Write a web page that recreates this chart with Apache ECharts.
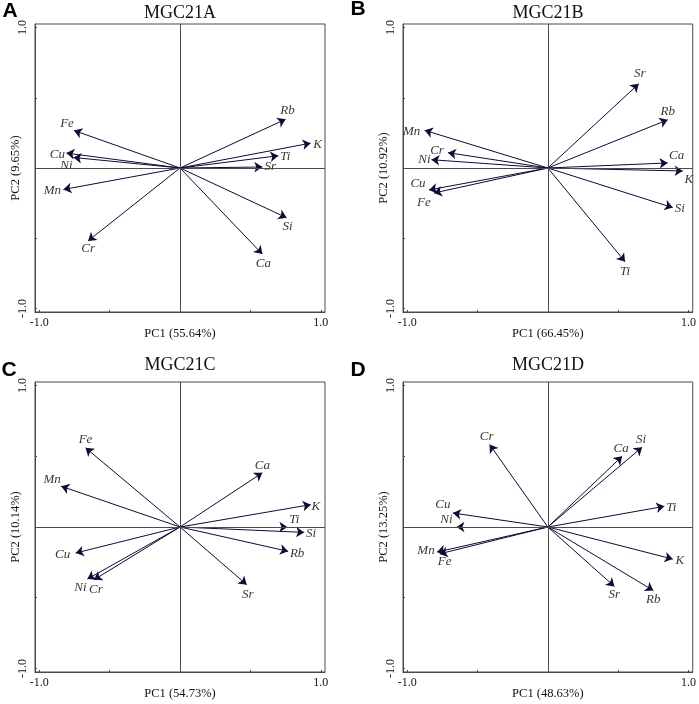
<!DOCTYPE html>
<html>
<head>
<meta charset="utf-8">
<script src="https://cdn.jsdelivr.net/npm/echarts@6/dist/echarts.min.js"></script>
<style>
  html, body { margin: 0; padding: 0; background: #fff; }
  #chart { width: 699px; height: 704px; }
</style>
</head>
<body>
<div id="chart"></div>
<script>
// loadings, same element order in every panel
const elements = ['Ca', 'Cr', 'Cu', 'Fe', 'K', 'Mn', 'Ni', 'Rb', 'Si', 'Sr', 'Ti'];

const pc1A = [0.585, -0.653, -0.807, -0.753, 0.928, -0.828, -0.757, 0.750, 0.757, 0.585, 0.698];
const pc2A = [-0.613, -0.519, 0.106, 0.267, 0.177, -0.153, 0.075, 0.347, -0.354, 0.007, 0.087];

const pc1B = [0.852, -0.710, -0.845, -0.810, 0.959, -0.876, -0.828, 0.852, 0.888, 0.646, 0.549];
const pc2B = [0.036, 0.109, -0.156, -0.178, -0.021, 0.268, 0.059, 0.343, -0.282, 0.599, -0.667];

const pc1C = [0.585, -0.611, -0.741, -0.671, 0.929, -0.844, -0.658, 0.768, 0.882, 0.474, 0.763];
const pc2C = [0.383, -0.373, -0.184, 0.560, 0.158, 0.288, -0.368, -0.172, -0.038, -0.408, 0.000];

const pc1D = [0.528, -0.414, -0.675, -0.770, 0.888, -0.788, -0.650, 0.750, 0.670, 0.473, 0.828];
const pc2D = [0.500, 0.583, 0.099, -0.190, -0.227, -0.177, 0.000, -0.449, 0.564, -0.420, 0.146];

const titles = ['MGC21A', 'MGC21B', 'MGC21C', 'MGC21D'];
const letters = ['A', 'B', 'C', 'D'];
const pc1Names = ['PC1 (55.64%)', 'PC1 (66.45%)', 'PC1 (54.73%)', 'PC1 (48.63%)'];
const pc2Names = ['PC2 (9.65%)', 'PC2 (10.92%)', 'PC2 (10.14%)', 'PC2 (13.25%)'];
const tickValues = [-1, -0.5, 0, 0.5, 1];
const labelValues = [-1, 1];

const panels = [[pc1A, pc2A], [pc1B, pc2B], [pc1C, pc2C], [pc1D, pc2D]];

// layout
const grids = [
    { left: 35, top: 24, width: 290, height: 288 },
    { left: 403, top: 24, width: 290, height: 288 },
    { left: 35, top: 382, width: 290, height: 290 },
    { left: 403, top: 382, width: 290, height: 290 }
];
const titlePos = [[180, 13], [548, 13], [180, 365], [548, 365]];
const letterPos = [[10, 11], [358, 9], [9, 370], [358, 370]];

// where each element name sits relative to its arrow tip (px)
const labelOffsets = [
    { Ca: [1, 9], Cr: [0, 8], Cu: [-9, 1], Fe: [-7, -7], K: [7, 1], Mn: [-11, 1],
      Ni: [-7, 8], Rb: [2, -9], Si: [1, 9], Sr: [8, 0], Ti: [7, 1] },
    { Ca: [9, -7], Cr: [-11, -2], Cu: [-11, -6], Fe: [-10, 10], K: [6, 9], Mn: [-13, 1],
      Ni: [-7, 0], Rb: [0, -8], Si: [7, 1], Sr: [1, -10], Ti: [0, 10] },
    { Ca: [0, -7], Cr: [2, 10], Cu: [-13, 2], Fe: [0, -8], K: [5, 2], Mn: [-9, -7],
      Ni: [-7, 9], Rb: [9, 2], Si: [7, 1], Sr: [1, 10], Ti: [7, -7] },
    { Ca: [-1, -8], Cr: [-3, -8], Cu: [-10, -8], Fe: [5, 8], K: [7, 1], Mn: [-11, -1],
      Ni: [-10, -7], Rb: [0, 9], Si: [-1, -8], Sr: [0, 8], Ti: [7, 1] }
];

const serif = '"Liberation Serif", "Times New Roman", serif';
const frameColor = '#4a4a4a';
const arrowColor = '#0c0c36';

const chart = echarts.init(document.getElementById('chart'));

const xAxes = [], yAxes = [], series = [], graphics = [];

panels.forEach(([pc1, pc2], i) => {
    xAxes.push({
        gridIndex: i, type: 'value', min: -1.03, max: 1.03,
        axisLine: { show: true, onZero: false, lineStyle: { color: frameColor, width: 1 } },
        axisTick: { show: true, inside: true, length: 2, customValues: tickValues,
                    lineStyle: { color: frameColor } },
        axisLabel: { customValues: labelValues, formatter: v => v.toFixed(1), margin: 5,
                     fontFamily: serif, fontSize: 12, color: '#111' },
        splitLine: { show: false },
        name: pc1Names[i], nameLocation: 'middle', nameGap: 15, nameMoveOverlap: false,
        nameTextStyle: { fontFamily: serif, fontSize: 12.5, color: '#111' }
    });
    yAxes.push({
        gridIndex: i, type: 'value', min: -1.025, max: 1.025,
        axisLine: { show: true, onZero: false, lineStyle: { color: frameColor, width: 1 } },
        axisTick: { show: true, inside: true, length: 2, customValues: tickValues,
                    lineStyle: { color: frameColor } },
        axisLabel: { customValues: labelValues, formatter: v => v.toFixed(1), margin: 6,
                     rotate: 90, fontFamily: serif, fontSize: 12, color: '#111' },
        splitLine: { show: false },
        name: pc2Names[i], nameLocation: 'middle', nameGap: 13, nameMoveOverlap: false,
        nameTextStyle: { fontFamily: serif, fontSize: 12.5, color: '#111' }
    });

    series.push({
        type: 'lines', coordinateSystem: 'cartesian2d',
        xAxisIndex: i, yAxisIndex: i,
        symbol: ['none', 'arrow'], symbolSize: 8,
        lineStyle: { color: arrowColor, width: 1, opacity: 1, curveness: 0 },
        silent: true,
        data: elements.map((el, k) => ({ name: el, coords: [[0, 0], [pc1[k], pc2[k]]] }))
    });

    series.push({
        type: 'scatter', xAxisIndex: i, yAxisIndex: i,
        symbolSize: 0, silent: true,
        label: {
            show: true, position: 'inside', formatter: p => p.name,
            fontFamily: serif, fontStyle: 'italic', fontSize: 13, color: '#000'
        },
        data: elements.map((el, k) => ({
            name: el, value: [pc1[k], pc2[k]],
            label: { offset: labelOffsets[i][el] }
        })),
        markLine: {
            silent: true, symbol: ['none', 'none'],
            label: { show: false },
            lineStyle: { color: frameColor, type: 'solid', width: 1 },
            data: [{ xAxis: 0 }, { yAxis: 0 }]
        }
    });

    graphics.push({
        type: 'text', x: titlePos[i][0], y: titlePos[i][1],
        style: { text: titles[i], fontFamily: serif, fontSize: 18, fill: '#111',
                 textAlign: 'center', textVerticalAlign: 'middle' }
    });
    graphics.push({
        type: 'text', x: letterPos[i][0], y: letterPos[i][1],
        style: { text: letters[i], fontFamily: '"Liberation Sans", Arial, sans-serif',
                 fontWeight: 'bold', fontSize: 21, fill: '#000',
                 textAlign: 'center', textVerticalAlign: 'middle' }
    });
});

chart.setOption({
    animation: false,
    backgroundColor: '#fff',
    grid: grids.map(g => Object.assign({ show: true, borderColor: frameColor, borderWidth: 1,
                                          backgroundColor: 'transparent' }, g)),
    xAxis: xAxes,
    yAxis: yAxes,
    series: series,
    graphic: graphics
});
</script>
</body>
</html>
